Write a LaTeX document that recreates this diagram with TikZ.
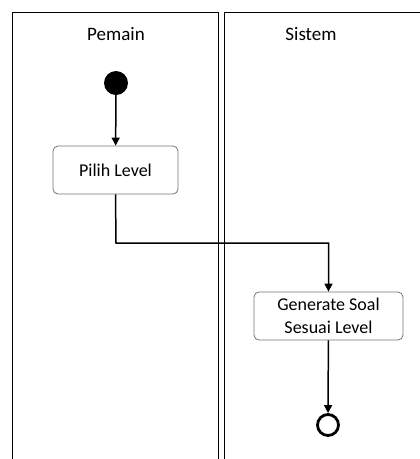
\documentclass[tikz,border=0pt]{standalone}
\usepackage{fontspec}
\setmainfont{Carlito}
\usetikzlibrary{arrows.meta}

\tikzset{
  lane/.style={line width=1.8pt},
  activity/.style={draw=black!55,line width=0.8pt,rounded corners=5pt,
    align=center,font=\fontsize{18}{23}\selectfont,inner sep=0pt},
  flow/.style={->,line width=1.5pt}
}

\begin{document}
\begin{tikzpicture}[x=1pt,y=-1pt,>={Triangle[length=8pt,width=8pt]}]
  \useasboundingbox (0,0) rectangle (420,459);
  % the two swimlanes
  \draw[lane] (12.5,470) -- (12.5,12.5) -- (218.5,12.5) -- (218.5,470);
  \draw[lane] (224.5,470) -- (224.5,12.5) -- (430,12.5);
  \node[font=\fontsize{19}{23}\selectfont] (pemain) at (116,34) {Pemain};
  \node[font=\fontsize{19}{23}\selectfont] (sistem) at (311,34) {Sistem};

  % start, activities, end
  \node[circle,fill=black,minimum size=24,inner sep=0pt] (start) at (116,83) {};
  \node[activity,minimum width=125,minimum height=48] (pilih) at (115.5,170) {Pilih Level};
  \node[activity,minimum width=149,minimum height=48] (soal) at (328.5,316)
    {Generate Soal\\Sesuai Level};
  \node[circle,draw=black,line width=2.8pt,minimum size=21,inner sep=0pt] (akhir) at (328,425) {};

  \coordinate (belok) at (116,243);
  \draw[flow] (start) -- (pilih);
  \draw[flow] (pilih.south) -- (belok) -| (soal.north);
  \draw[flow] (soal) -- (akhir);
\end{tikzpicture}
\end{document}
